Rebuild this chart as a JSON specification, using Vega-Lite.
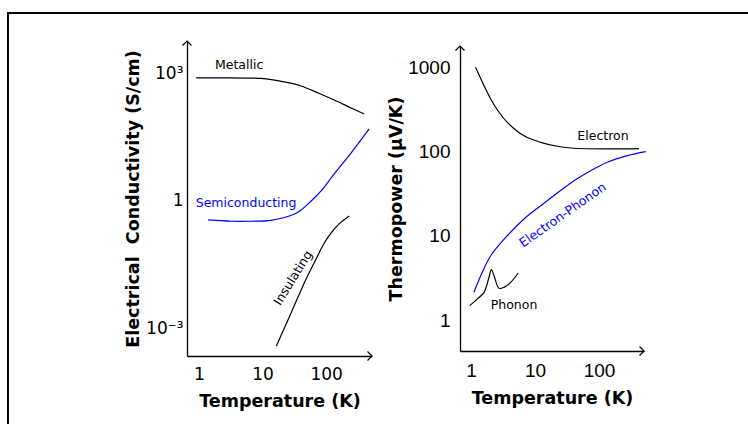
{
  "$schema": "https://vega.github.io/schema/vega-lite/v6.json",
  "padding": {"left": 6, "top": 11, "right": 0, "bottom": 0},
  "autosize": {"type": "pad"},
  "background": "white",
  "spacing": 88,
  "bounds": "flush",
  "center": true,
  "config": {
    "view": {"stroke": null},
    "font": "DejaVu Sans",
    "axis": {
      "domainColor": "black", "domainWidth": 1.3, "ticks": false, "tickSize": 0, "grid": false,
      "labelColor": "black", "titleColor": "black",
      "labelFont": "DejaVu Sans", "titleFont": "DejaVu Sans", "titleFontWeight": "bold",
      "titleFontSize": 17.5, "labelFontSize": 17
    }
  },
  "datasets": {
    "cond": [
      {"series": "Metallic", "T": 0.90, "v": 784},
      {"series": "Metallic", "T": 2.2, "v": 784},
      {"series": "Metallic", "T": 5.5, "v": 780},
      {"series": "Metallic", "T": 9.5, "v": 762},
      {"series": "Metallic", "T": 21.8, "v": 631},
      {"series": "Metallic", "T": 40.4, "v": 508},
      {"series": "Metallic", "T": 74.8, "v": 348},
      {"series": "Metallic", "T": 134, "v": 238},
      {"series": "Metallic", "T": 248, "v": 154},
      {"series": "Metallic", "T": 396, "v": 111},
      {"series": "Semiconducting", "T": 1.39, "v": 0.357},
      {"series": "Semiconducting", "T": 3.19, "v": 0.333},
      {"series": "Semiconducting", "T": 6.59, "v": 0.333},
      {"series": "Semiconducting", "T": 13.6, "v": 0.351},
      {"series": "Semiconducting", "T": 31.3, "v": 0.486},
      {"series": "Semiconducting", "T": 40.4, "v": 0.614},
      {"series": "Semiconducting", "T": 58.0, "v": 1.0},
      {"series": "Semiconducting", "T": 83.4, "v": 1.72},
      {"series": "Semiconducting", "T": 134, "v": 4.32},
      {"series": "Semiconducting", "T": 248, "v": 13.5},
      {"series": "Semiconducting", "T": 475, "v": 49.4},
      {"series": "Insulating", "T": 16.5, "v": 0.000388},
      {"series": "Insulating", "T": 28.1, "v": 0.00232},
      {"series": "Insulating", "T": 48.4, "v": 0.0146},
      {"series": "Insulating", "T": 69.6, "v": 0.0432},
      {"series": "Insulating", "T": 89.7, "v": 0.0922},
      {"series": "Insulating", "T": 120, "v": 0.177},
      {"series": "Insulating", "T": 160, "v": 0.288},
      {"series": "Insulating", "T": 230, "v": 0.444}
    ],
    "thermo": [
      {"series": "Electron", "T": 1.18, "v": 995},
      {"series": "Electron", "T": 1.60, "v": 601},
      {"series": "Electron", "T": 2.03, "v": 419},
      {"series": "Electron", "T": 2.74, "v": 291},
      {"series": "Electron", "T": 3.69, "v": 221},
      {"series": "Electron", "T": 6.73, "v": 153},
      {"series": "Electron", "T": 12.3, "v": 128},
      {"series": "Electron", "T": 22.3, "v": 115},
      {"series": "Electron", "T": 40.7, "v": 109},
      {"series": "Electron", "T": 135, "v": 107},
      {"series": "Electron", "T": 422, "v": 108},
      {"series": "Electron-Phonon", "T": 1.11, "v": 2.13},
      {"series": "Electron-Phonon", "T": 1.50, "v": 3.68},
      {"series": "Electron-Phonon", "T": 2.03, "v": 5.79},
      {"series": "Electron-Phonon", "T": 3.69, "v": 10.0},
      {"series": "Electron-Phonon", "T": 6.73, "v": 15.8},
      {"series": "Electron-Phonon", "T": 12.3, "v": 22.7},
      {"series": "Electron-Phonon", "T": 22.3, "v": 32.1},
      {"series": "Electron-Phonon", "T": 40.7, "v": 44.9},
      {"series": "Electron-Phonon", "T": 74.1, "v": 59.0},
      {"series": "Electron-Phonon", "T": 135, "v": 74.3},
      {"series": "Electron-Phonon", "T": 277, "v": 88.9},
      {"series": "Electron-Phonon", "T": 537, "v": 99.2},
      {"series": "Phonon", "T": 0.955, "v": 1.48},
      {"series": "Phonon", "T": 1.25, "v": 1.77},
      {"series": "Phonon", "T": 1.60, "v": 2.13},
      {"series": "Phonon", "T": 1.91, "v": 3.21},
      {"series": "Phonon", "T": 2.08, "v": 3.95},
      {"series": "Phonon", "T": 2.29, "v": 3.35},
      {"series": "Phonon", "T": 2.74, "v": 2.38},
      {"series": "Phonon", "T": 3.28, "v": 2.44},
      {"series": "Phonon", "T": 4.17, "v": 2.80},
      {"series": "Phonon", "T": 5.48, "v": 3.61}
    ]
  },
  "hconcat": [
    {
      "width": 185,
      "height": 315,
      "encoding": {
        "x": {
          "field": "T", "type": "quantitative",
          "scale": {"type": "log", "domain": [0.647, 527]},
          "axis": {"values": [1, 10, 100], "labelExpr": "format(datum.value, 'd')", "labelPadding": 10, "titlePadding": 10, "title": "Temperature (K)", "labelFlush": false, "labelOverlap": false}
        },
        "y": {
          "field": "v", "type": "quantitative",
          "scale": {"type": "log", "domain": [0.000225, 5800]},
          "axis": {"values": [0.001, 1, 1000], "labelExpr": "datum.value >= 999 ? '10³' : datum.value >= 0.999 ? '1' : '10⁻³'", "labelPadding": 4, "titlePadding": 3, "title": "Electrical\u00a0 Conductivity (S/cm)", "labelFlush": false, "labelOverlap": false}
        }
      },
      "layer": [
        {
          "data": {"values": [{"T": 0.000986, "v": 1e-7, "v2": 26400}]},
          "mark": {"type": "rule", "color": "black", "strokeWidth": 2, "strokeCap": "square"},
          "encoding": {"y2": {"field": "v2"}}
        },
        {
          "data": {"values": [{"T": 0.000986, "T2": 1e10, "v": 26400}]},
          "mark": {"type": "rule", "color": "black", "strokeWidth": 2, "strokeCap": "square"},
          "encoding": {"x2": {"field": "T2"}}
        },
        {
          "data": {"name": "cond"},
          "mark": {"type": "line", "strokeWidth": 1.2, "interpolate": "catmull-rom"},
          "encoding": {
            "color": {"field": "series", "type": "nominal", "scale": {"domain": ["Metallic", "Semiconducting", "Insulating"], "range": ["black", "#0000ff", "black"]}, "legend": null}
          }
        },
        {
          "data": {"values": [{"T": 0.647, "v": 5800}]},
          "mark": {"type": "point", "shape": "M-1,1L0,0L1,1", "size": 80, "filled": false, "stroke": "black", "strokeWidth": 1.2, "opacity": 1}
        },
        {
          "data": {"values": [{"T": 527, "v": 0.000225}]},
          "mark": {"type": "point", "shape": "M-1,-1L0,0L-1,1", "size": 80, "filled": false, "stroke": "black", "strokeWidth": 1.2, "opacity": 1}
        },
        {
          "data": {"values": [{"label": "Metallic", "T": 4.27, "v": 1585}]},
          "mark": {"type": "text", "fontSize": 12.5, "color": "black", "align": "center", "baseline": "middle"},
          "encoding": {"text": {"field": "label"}}
        },
        {
          "data": {"values": [{"label": "Semiconducting", "T": 5.5, "v": 0.90}]},
          "mark": {"type": "text", "fontSize": 12.5, "color": "#0000ff", "align": "center", "baseline": "middle"},
          "encoding": {"text": {"field": "label"}}
        },
        {
          "data": {"values": [{"label": "Insulating", "T": 30.2, "v": 0.0154}]},
          "mark": {"type": "text", "fontSize": 12.5, "color": "black", "align": "center", "baseline": "middle", "angle": -58},
          "encoding": {"text": {"field": "label"}}
        }
      ]
    },
    {
      "width": 184,
      "height": 305,
      "encoding": {
        "x": {
          "field": "T", "type": "quantitative",
          "scale": {"type": "log", "domain": [0.673, 505]},
          "axis": {"values": [1, 10, 100], "labelExpr": "format(datum.value, 'd')", "labelFont": "Liberation Sans", "labelFontSize": 19, "labelPadding": 10, "titlePadding": 9, "title": "Temperature (K)", "labelFlush": false, "labelOverlap": false}
        },
        "y": {
          "field": "v", "type": "quantitative",
          "scale": {"type": "log", "domain": [0.429, 1778]},
          "axis": {"values": [1, 10, 100, 1000], "labelExpr": "format(datum.value, 'd')", "labelFont": "Liberation Sans", "labelFontSize": 19, "labelPadding": 10, "titlePadding": 2, "title": "Thermopower (µV/K)", "labelFlush": false, "labelOverlap": false}
        }
      },
      "layer": [
        {
          "data": {"name": "thermo"},
          "mark": {"type": "line", "strokeWidth": 1.2, "interpolate": "catmull-rom"},
          "encoding": {
            "color": {"field": "series", "type": "nominal", "scale": {"domain": ["Electron", "Electron-Phonon", "Phonon"], "range": ["black", "#0000ff", "black"]}, "legend": null}
          }
        },
        {
          "data": {"values": [{"T": 0.673, "v": 1778}]},
          "mark": {"type": "point", "shape": "M-1,1L0,0L1,1", "size": 80, "filled": false, "stroke": "black", "strokeWidth": 1.2, "opacity": 1}
        },
        {
          "data": {"values": [{"T": 505, "v": 0.429}]},
          "mark": {"type": "point", "shape": "M-1,-1L0,0L-1,1", "size": 80, "filled": false, "stroke": "black", "strokeWidth": 1.2, "opacity": 1}
        },
        {
          "data": {"values": [{"label": "Electron", "T": 115.5, "v": 151}]},
          "mark": {"type": "text", "fontSize": 12.5, "color": "black", "align": "center", "baseline": "middle"},
          "encoding": {"text": {"field": "label"}}
        },
        {
          "data": {"values": [{"label": "Phonon", "T": 4.70, "v": 1.51}]},
          "mark": {"type": "text", "fontSize": 12.5, "color": "black", "align": "center", "baseline": "middle"},
          "encoding": {"text": {"field": "label"}}
        },
        {
          "data": {"values": [{"label": "Electron-Phonon", "T": 27.1, "v": 17.6}]},
          "mark": {"type": "text", "fontSize": 12.5, "color": "#0000ff", "align": "center", "baseline": "middle", "angle": -35},
          "encoding": {"text": {"field": "label"}}
        }
      ]
    }
  ]
}
